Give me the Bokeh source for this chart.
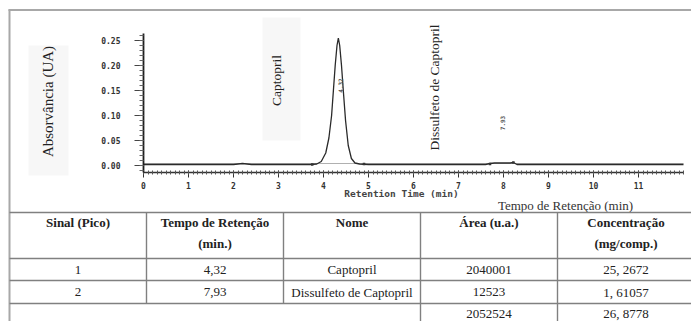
from bokeh.plotting import figure
from bokeh.models import Range1d, LinearAxis, FixedTicker, NumeralTickFormatter
from bokeh.core.properties import value
from bokeh.embed import file_html
from bokeh.resources import INLINE
from math import pi

# ---------------- data ----------------
time_min = [0.0, 2.0, 2.2, 2.4, 3.70, 3.85, 3.95, 4.05, 4.12, 4.18, 4.22, 4.26, 4.30, 4.33,
            4.36, 4.40, 4.44, 4.49, 4.55, 4.62, 4.70, 4.80, 5.0, 7.6, 7.7, 7.8, 7.93, 8.05,
            8.15, 8.22, 8.30, 12.0]
absorbance = [0.002, 0.002, 0.004, 0.002, 0.002, 0.003, 0.008, 0.025, 0.055, 0.100, 0.150,
              0.200, 0.240, 0.255, 0.240, 0.200, 0.150, 0.090, 0.040, 0.014, 0.005, 0.003,
              0.002, 0.002, 0.004, 0.005, 0.005, 0.005, 0.005, 0.006, 0.002, 0.002]
peak_marks_t = [3.75, 4.90, 7.70, 8.22]
peak_marks_a = [0.002, 0.003, 0.003, 0.006]
peak_rt_labels = ["4.32", "7.93"]
peak_rt = [4.32, 7.93]
peak_rt_label_a = [0.16, 0.085]

y_ticks = [0.00, 0.05, 0.10, 0.15, 0.20, 0.25]
x_ticks = [0, 1, 2, 3, 4, 5, 6, 7, 8, 9, 10, 11]

y_title = "Absorvância (UA)"
x_title = "Tempo de Retenção (min)"
x_axis_label_orig = "Retention Time (min)"
peak_names = ["Captopril", "Dissulfeto de Captopril"]

header_1 = ["Sinal (Pico)", "Tempo de Retenção", "Nome", "Área (u.a.)", "Concentração"]
header_2 = ["", "(min.)", "", "", "(mg/comp.)"]
signal = ["1", "2"]
rt_text = ["4,32", "7,93"]
names = ["Captopril", "Dissulfeto de Captopril"]
areas = ["2040001", "12523"]
concs = ["25, 2672", "1, 61057"]
total_area = "2052524"
total_conc = "26, 8778"

# ---------------- layout (page pixels) ----------------
W, H = 691, 321
PX, PY = 0, 0
X0, XS = 143, 45.0      # page x of t=0, px per minute
Y0, YS = 165, 500.0     # page y of A=0, px per AU

p = figure(width=W, height=H, output_backend="svg", toolbar_location=None,
           x_range=Range1d((PX - X0) / XS, (PX + W - X0) / XS),
           y_range=Range1d((Y0 - (PY + H)) / YS, (Y0 - PY) / YS),
           x_axis_type=None, y_axis_type=None, min_border=0)
p.outline_line_color = None
p.background_fill_color = "white"
p.border_fill_color = "white"
p.extra_x_ranges = {"pg": Range1d(PX, PX + W)}
p.extra_y_ranges = {"pg": Range1d(PY + H, PY)}

SERIF = value("Liberation Serif")
MONO = "DejaVu Sans Mono"

# faint label backgrounds
p.quad(left=[28, 262], right=[68, 300], top=[45, 17], bottom=[175, 140],
       x_range_name="pg", y_range_name="pg", fill_color="#f7f7f7", line_color=None)

# outer frame
p.segment(x0=[8, 9], y0=[9.5, 9], x1=[W, 9], y1=[9.5, H],
          x_range_name="pg", y_range_name="pg", line_color="#a8a8a8", line_width=2)

# axes
y_minor = [round(-0.01 + 0.01 * i, 3) for i in range(28)]
yax = LinearAxis(fixed_location=0, bounds=(-0.014, 0.264),
                 ticker=FixedTicker(ticks=y_ticks, minor_ticks=y_minor),
                 formatter=NumeralTickFormatter(format="0.00"))
yax.axis_line_color = "#1e1e1e"
yax.axis_line_width = 1.8
yax.major_tick_line_color = "#444"
yax.major_tick_out = 9
yax.major_tick_in = 0
yax.minor_tick_line_color = "#666"
yax.minor_tick_out = 4
yax.minor_tick_in = 0
yax.major_label_text_font = MONO
yax.major_label_text_font_size = "8px"
yax.major_label_text_font_style = "bold"
yax.major_label_text_color = "#333"
yax.major_label_standoff = 14
p.add_layout(yax, "left")

x_minor = [round(0.1 * i, 2) for i in range(121)]
xax = LinearAxis(fixed_location=-0.014, bounds=(0, 12),
                 ticker=FixedTicker(ticks=x_ticks, minor_ticks=x_minor),
                 formatter=NumeralTickFormatter(format="0"))
xax.axis_line_color = "#333"
xax.axis_line_width = 1.3
xax.major_tick_line_color = "#333"
xax.major_tick_out = 5
xax.major_tick_in = 2
xax.minor_tick_line_color = "#555"
xax.minor_tick_out = 2
xax.minor_tick_in = 2
xax.major_label_text_font = MONO
xax.major_label_text_font_size = "8px"
xax.major_label_text_font_style = "bold"
xax.major_label_text_color = "#333"
xax.major_label_standoff = 4
p.add_layout(xax, "below")

# original instrument axis title
p.text(x=[401], y=[193], text=[x_axis_label_orig], x_range_name="pg", y_range_name="pg",
       text_font=value(MONO), text_font_size="9.5px", text_font_style="bold",
       text_color="#444", text_align="center", text_baseline="middle")

# baseline reference + trace
p.line(x=[0, 12], y=[0.004, 0.004], line_color="#b0b0b0", line_width=1)
p.line(x=time_min, y=absorbance, line_color="#2a2a2a", line_width=1.3)
p.scatter(x=peak_marks_t, y=peak_marks_a, marker="square", size=2.5,
          fill_color="#333", line_color=None)
p.text(x=[t + 0.05 for t in peak_rt], y=peak_rt_label_a, text=peak_rt_labels, angle=pi / 2,
       text_font=value(MONO), text_font_size="6px", text_font_style="bold",
       text_color="#555", text_align="center", text_baseline="middle")

# chart annotations
p.text(x=[47], y=[101], text=[y_title], angle=pi / 2, x_range_name="pg", y_range_name="pg",
       text_font=SERIF, text_font_size="15px", text_color="#222",
       text_align="center", text_baseline="middle")
p.text(x=[276, 434], y=[80, 87], text=peak_names, angle=pi / 2, x_range_name="pg",
       y_range_name="pg", text_font=SERIF, text_font_size="13.5px", text_color="#222",
       text_align="center", text_baseline="middle")
p.text(x=[565], y=[205], text=[x_title], x_range_name="pg", y_range_name="pg",
       text_font=SERIF, text_font_size="13px", text_color="#333",
       text_align="center", text_baseline="middle")

# ---------------- table ----------------
ncol = len(header_1)
CW = 137
col_left = [9 + i * CW for i in range(ncol)]
col_mid = [c + CW / 2 for c in col_left]
T0 = 212                       # table top
row_edges = [T0, T0 + 46, T0 + 68, T0 + 91, T0 + 113]
gray = "#808080"

# horizontal rules
p.segment(x0=[9] * 4, y0=row_edges[:4], x1=[W] * 4, y1=row_edges[:4],
          x_range_name="pg", y_range_name="pg", line_color=gray, line_width=1.6)
# vertical rules
vx = col_left[1:]
vy1 = [row_edges[3], row_edges[3], H, H]
p.segment(x0=vx, y0=[T0] * 4, x1=vx, y1=vy1,
          x_range_name="pg", y_range_name="pg", line_color=gray, line_width=1.4)

p.text(x=col_mid, y=[T0 + 10] * ncol, text=header_1, x_range_name="pg", y_range_name="pg",
       text_font=SERIF, text_font_size="13px", text_font_style="bold", text_color="#222",
       text_align="center", text_baseline="middle")
p.text(x=col_mid, y=[T0 + 31] * ncol, text=header_2, x_range_name="pg", y_range_name="pg",
       text_font=SERIF, text_font_size="13px", text_font_style="bold", text_color="#222",
       text_align="center", text_baseline="middle")

row_mid = [(row_edges[1] + row_edges[2]) / 2, (row_edges[2] + row_edges[3]) / 2]
for i in range(len(signal)):
    cells = [signal[i], rt_text[i], names[i], areas[i], concs[i]]
    p.text(x=col_mid, y=[row_mid[i]] * ncol, text=cells, x_range_name="pg", y_range_name="pg",
           text_font=SERIF, text_font_size="13px", text_color="#222",
           text_align="center", text_baseline="middle")
p.text(x=col_mid[3:], y=[row_edges[3] + 10] * 2, text=[total_area, total_conc],
       x_range_name="pg", y_range_name="pg", text_font=SERIF, text_font_size="13px",
       text_color="#222", text_align="center", text_baseline="middle")

open("out.html", "w").write(file_html(p, INLINE))
